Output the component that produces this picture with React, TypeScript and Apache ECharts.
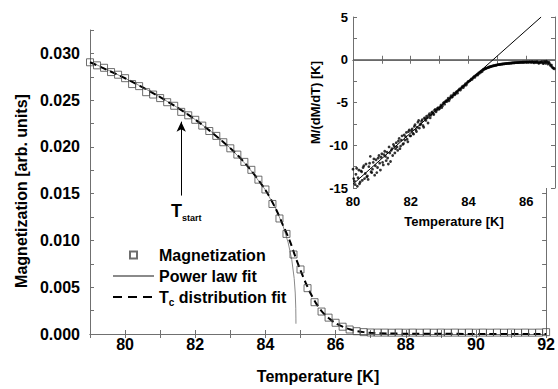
import React, { useEffect, useRef } from "react";
import * as echarts from "echarts";

const FONT = "'Liberation Sans', Arial, Helvetica, sans-serif";

// Main chart: magnetization data
const magTemps = [
  79.0, 79.2, 79.4, 79.6, 79.8, 80.0, 80.2, 80.4, 80.6, 80.8,
  81.0, 81.2, 81.4, 81.6, 81.8, 82.0, 82.2, 82.4, 82.6, 82.8,
  83.0, 83.2, 83.4, 83.6, 83.8, 84.0, 84.2, 84.4, 84.6, 84.8,
  85.0, 85.2, 85.4, 85.6, 85.8, 86.0, 86.2, 86.4, 86.6, 86.8,
  87.0, 87.2, 87.4, 87.6, 87.8, 88.0, 88.2, 88.4, 88.6, 88.8,
  89.0, 89.2, 89.4, 89.6, 89.8, 90.0, 90.2, 90.4, 90.6, 90.8,
  91.0, 91.2, 91.4, 91.6, 91.8, 92.0,
];
const magValues = [
  0.02905, 0.02872, 0.02846, 0.028, 0.02772, 0.02735, 0.02672, 0.0265, 0.02585, 0.0256,
  0.02522, 0.02478, 0.0244, 0.02375, 0.02338, 0.0229, 0.02228, 0.0217, 0.02118, 0.0205,
  0.01985, 0.01918, 0.0184, 0.01755, 0.0165, 0.01545, 0.0139, 0.01235, 0.0107, 0.0085,
  0.0069, 0.0049, 0.0034, 0.0024, 0.00175, 0.0012, 0.00078, 0.00048, 0.0003, 0.0002,
  0.00016, 0.00015, 0.00015, 0.00014, 0.00015, 0.00014, 0.00015, 0.00014, 0.00015, 0.00014,
  0.00015, 0.00014, 0.00015, 0.00014, 0.00015, 0.00014, 0.00015, 0.00014, 0.00015, 0.00014,
  0.00015, 0.00014, 0.00015, 0.00014, 0.00015, 0.0002,
];

// Power law fit
const powerTemps = [
  79.0, 79.5, 80.0, 80.5, 81.0, 81.5, 82.0, 82.5, 83.0, 83.5,
  84.0, 84.3, 84.5, 84.65, 84.75, 84.82, 84.85, 84.865, 84.869, 84.87,
];
const powerValues = [
  0.0291, 0.02825, 0.02734, 0.02638, 0.02532, 0.02419, 0.02292, 0.02151, 0.01987, 0.01791,
  0.0154, 0.01337, 0.01158, 0.00974, 0.00796, 0.00594, 0.00438, 0.00276, 0.00161, 0.0011,
];

// Tc distribution fit
const distTemps = [
  79.0, 80.0, 81.0, 82.0, 83.0, 83.5, 84.0, 84.3, 84.5, 84.7,
  84.85, 85.0, 85.15, 85.3, 85.45, 85.6, 85.8, 86.0, 86.2, 86.4,
  86.6, 86.8, 87.0, 87.5, 88.0, 90.0, 92.0,
];
const distValues = [
  0.02905, 0.02734, 0.02532, 0.02292, 0.01987, 0.0179, 0.0154, 0.01335, 0.01165, 0.0099,
  0.0083, 0.0068, 0.00545, 0.00425, 0.00325, 0.00245, 0.0017, 0.00115, 0.00078, 0.0005,
  0.00032, 0.0002, 0.00013, 0.00006, 0.00003, 0.00001, 0.0,
];

// T_start arrow (temperature, from value, to value)
const tStartTemp = 81.6;
const tStartRange = [0.0148, 0.0227];

// Inset: M/(dM/dT), first set of points
const insetTemps = [
  80.0, 80.05, 80.1, 80.15, 80.2, 80.25, 80.3, 80.35, 80.4, 80.45,
  80.5, 80.55, 80.6, 80.65, 80.7, 80.75, 80.8, 80.85, 80.9, 80.95,
  81.0, 81.05, 81.1, 81.15, 81.2, 81.25, 81.3, 81.35, 81.4, 81.45,
  81.5, 81.55, 81.6, 81.65, 81.7, 81.75, 81.8, 81.85, 81.9, 81.95,
  82.0, 82.05, 82.1, 82.15, 82.2, 82.25, 82.3, 82.35, 82.4, 82.45,
  82.5, 82.55, 82.6, 82.65, 82.7, 82.75, 82.8, 82.85, 82.9, 82.95,
  83.0, 83.05, 83.1, 83.15, 83.2, 83.25, 83.3, 83.35, 83.4, 83.45,
  83.5, 83.55, 83.6, 83.65, 83.7, 83.75, 83.8, 83.85, 83.9, 83.95,
  84.0, 84.05, 84.1, 84.15, 84.2, 84.25, 84.3, 84.35, 84.4, 84.45,
  84.5, 84.55, 84.6, 84.65, 84.7, 84.75, 84.8, 84.85, 84.9, 84.95,
  85.0, 85.05, 85.1, 85.15, 85.2, 85.25, 85.3, 85.35, 85.4, 85.45,
  85.5, 85.55, 85.6, 85.65, 85.7, 85.75, 85.8, 85.85, 85.9, 85.95,
  86.0, 86.05, 86.1, 86.15, 86.2, 86.25, 86.3, 86.35, 86.4, 86.45,
  86.5, 86.55, 86.6, 86.65, 86.7, 86.75, 86.8, 86.85, 86.9, 86.95,
];
const insetRatios = [
  -12.8, -14.2, -13.4, -14.8, -12.9, -14.3, -13.1, -12.6, -13.9, -12.2,
  -13.6, -12.5, -11.3, -13.2, -12.0, -13.5, -11.7, -12.6, -11.2, -12.9,
  -11.0, -12.3, -10.7, -11.8, -11.5, -10.2, -11.9, -10.4, -9.9, -10.9,
  -9.7, -10.6, -9.2, -10.1, -8.9, -9.8, -9.4, -8.5, -9.6, -8.2,
  -8.9, -8.1, -8.7, -7.6, -8.4, -7.3, -8.0, -7.5, -7.0, -7.9,
  -6.9, -6.6, -7.4, -6.3, -6.5, -6.1, -6.4, -5.8, -5.9, -5.6,
  -5.7, -5.3, -5.4, -5.0, -4.9, -4.9, -4.5, -4.6, -4.2, -4.3,
  -3.9, -4.0, -3.7, -3.6, -3.4, -3.35, -3.1, -3.05, -2.8, -2.75,
  -2.55, -2.45, -2.25, -2.15, -1.95, -1.85, -1.7, -1.55, -1.42, -1.3,
  -1.2, -1.1, -1.02, -0.95, -0.88, -0.82, -0.77, -0.72, -0.68, -0.64,
  -0.6, -0.57, -0.54, -0.52, -0.49, -0.47, -0.45, -0.43, -0.41, -0.4,
  -0.38, -0.36, -0.35, -0.34, -0.33, -0.32, -0.3, -0.3, -0.29, -0.28,
  -0.28, -0.27, -0.27, -0.28, -0.26, -0.3, -0.25, -0.33, -0.28, -0.4,
  -0.31, -0.22, -0.45, -0.3, -0.18, -0.5, -0.35, -0.7, -0.85, -1.0,
];
// Inset: second, interleaved set of points
const insetTemps2 = [
  80.025, 80.075, 80.125, 80.175, 80.225, 80.275, 80.325, 80.375, 80.425, 80.475,
  80.525, 80.575, 80.625, 80.675, 80.725, 80.775, 80.825, 80.875, 80.925, 80.975,
  81.025, 81.075, 81.125, 81.175, 81.225, 81.275, 81.325, 81.375, 81.425, 81.475,
  81.525, 81.575, 81.625, 81.675, 81.725, 81.775, 81.825, 81.875, 81.925, 81.975,
  82.025, 82.075, 82.125, 82.175, 82.225, 82.275, 82.325, 82.375, 82.425, 82.475,
  82.525, 82.575, 82.625, 82.675, 82.725, 82.775, 82.825, 82.875, 82.925, 82.975,
  83.025, 83.075, 83.125, 83.175, 83.225, 83.275, 83.325, 83.375, 83.425, 83.475,
  83.525, 83.575, 83.625, 83.675, 83.725, 83.775, 83.825, 83.875, 83.925, 83.975,
  84.025, 84.075, 84.125, 84.175, 84.225, 84.275, 84.325, 84.375, 84.425, 84.475,
  84.525, 84.575, 84.625, 84.675, 84.725, 84.775, 84.825, 84.875, 84.925, 84.975,
  85.025, 85.075, 85.125, 85.175, 85.225, 85.275, 85.325, 85.375, 85.425, 85.475,
  85.525, 85.575, 85.625, 85.675, 85.725, 85.775, 85.825, 85.875, 85.925, 85.975,
  86.025, 86.075, 86.125, 86.175, 86.225, 86.275, 86.325, 86.375, 86.425, 86.475,
  86.525, 86.575, 86.625, 86.675, 86.725, 86.775, 86.825, 86.875, 86.925, 86.975,
];
const insetRatios2 = [
  -13.9, -14.6, -12.7, -13.8, -14.5, -13.0, -14.1, -12.4, -13.3, -13.7,
  -14.0, -12.1, -13.1, -12.8, -11.6, -12.4, -13.2, -11.5, -12.1, -11.4,
  -12.0, -11.1, -11.3, -10.8, -12.2, -10.9, -10.6, -11.2, -10.1, -10.4,
  -10.2, -9.5, -10.4, -9.4, -9.9, -8.8, -9.0, -9.3, -8.4, -8.9,
  -8.3, -8.6, -7.8, -8.2, -7.9, -7.1, -7.6, -7.2, -7.7, -6.8,
  -7.1, -6.8, -6.5, -6.8, -6.2, -6.3, -5.9, -6.1, -5.7, -5.8,
  -5.5, -5.6, -5.1, -5.2, -4.8, -4.7, -4.8, -4.4, -4.4, -4.1,
  -4.1, -3.8, -3.9, -3.5, -3.55, -3.2, -3.25, -2.95, -2.95, -2.6,
  -2.5, -2.35, -2.3, -2.05, -2.05, -1.8, -1.78, -1.6, -1.48, -1.38,
  -1.15, -1.06, -0.98, -0.92, -0.85, -0.8, -0.74, -0.7, -0.66, -0.62,
  -0.58, -0.56, -0.53, -0.5, -0.48, -0.46, -0.44, -0.42, -0.41, -0.39,
  -0.37, -0.36, -0.34, -0.33, -0.33, -0.31, -0.3, -0.29, -0.29, -0.28,
  -0.27, -0.3, -0.25, -0.29, -0.24, -0.35, -0.27, -0.22, -0.38, -0.3,
  -0.27, -0.4, -0.2, -0.42, -0.28, -0.3, -0.55, -0.62, -0.95, -1.05,
];
// Linear fit in the inset (endpoints)
const insetFitTemps = [80.0, 86.52];
const insetFitValues = [-14.55, 5.0];
const insetZeroTemps = [80.0, 87.0];
const insetZeroValues = [0, 0];

const zip = (xs: number[], ys: number[]) => xs.map((x, i) => [x, ys[i]]);

const AXIS_COLOR = "#707070";
const HIDDEN_SYMBOL = { opacity: 0, color: "rgba(0,0,0,0)", borderWidth: 0 };

export default function App() {
  const ref = useRef<HTMLDivElement>(null);
  useEffect(() => {
    if (!ref.current) return;
    const chart = echarts.init(ref.current, undefined, { renderer: "svg" });
    const boldLabel = (size: number) => ({
      color: "#000",
      fontSize: size,
      fontWeight: "bold" as const,
      fontFamily: FONT,
    });
    const mainX = (pos: "bottom" | "top", show: boolean) => ({
      type: "value" as const,
      gridIndex: 0,
      position: pos,
      min: 79,
      max: 92,
      interval: 1,
      axisLine: { lineStyle: { color: AXIS_COLOR, width: 1 } },
      axisTick: { inside: true, length: 4, lineStyle: { color: AXIS_COLOR } },
      axisLabel: {
        show,
        margin: 2,
        ...boldLabel(16),
        formatter: (v: number) => (Math.round(v) % 2 === 0 ? String(v) : ""),
      },
      splitLine: { show: false },
      ...(show
        ? {
            name: "Temperature [K]",
            nameLocation: "middle" as const,
            nameGap: 34,
            nameTextStyle: boldLabel(16),
          }
        : {}),
    });
    const mainY = (pos: "left" | "right", show: boolean) => ({
      type: "value" as const,
      gridIndex: 0,
      position: pos,
      min: 0,
      max: 0.0325,
      interval: 0.0025,
      axisLine: { show: true, lineStyle: { color: AXIS_COLOR, width: 1 } },
      axisTick: { show: true, inside: true, length: 4, lineStyle: { color: AXIS_COLOR } },
      axisLabel: {
        show,
        margin: 10,
        ...boldLabel(16),
        formatter: (v: number) => (Math.round(v / 0.0025) % 2 === 0 ? v.toFixed(3) : ""),
      },
      splitLine: { show: false },
      ...(show
        ? {
            name: "Magnetization [arb. units]",
            nameLocation: "middle" as const,
            nameGap: 57,
            nameTextStyle: { ...boldLabel(16), padding: [0, 18, 0, 0] },
          }
        : {}),
    });
    const insetX = (pos: "bottom" | "top", show: boolean) => ({
      type: "value" as const,
      gridIndex: 1,
      position: pos,
      min: 80,
      max: 87,
      interval: 1,
      z: 6,
      axisLine: { lineStyle: { color: AXIS_COLOR, width: 1 } },
      axisTick: { inside: true, length: 4, lineStyle: { color: AXIS_COLOR } },
      axisLabel: {
        show,
        margin: 7,
        ...boldLabel(13),
        formatter: (v: number) => (Math.round(v) % 2 === 0 ? String(v) : ""),
      },
      splitLine: { show: false },
      ...(show
        ? {
            name: "Temperature [K]",
            nameLocation: "middle" as const,
            nameGap: 27,
            nameTextStyle: boldLabel(13),
          }
        : {}),
    });
    const insetY = (pos: "left" | "right", show: boolean) => ({
      type: "value" as const,
      gridIndex: 1,
      position: pos,
      min: -15,
      max: 5,
      interval: 2.5,
      z: 6,
      axisLine: { show: true, lineStyle: { color: AXIS_COLOR, width: 1 } },
      axisTick: { show: true, inside: true, length: 4, lineStyle: { color: AXIS_COLOR } },
      axisLabel: {
        show,
        margin: 5,
        ...boldLabel(13),
        formatter: (v: number) => (Math.round(v / 2.5) % 2 === 0 ? String(v) : ""),
      },
      splitLine: { show: false },
      ...(show
        ? {
            name: "M/(dM/dT) [K]",
            nameLocation: "middle" as const,
            nameGap: 31,
            nameTextStyle: boldLabel(13),
          }
        : {}),
    });

    chart.setOption({
      animation: false,
      backgroundColor: "#fff",
      textStyle: { fontFamily: FONT },
      grid: [
        { left: 90, top: 30, right: 9, bottom: 51, show: false },
        {
          left: 353,
          top: 17,
          right: -4,
          bottom: 201,
          show: true,
          backgroundColor: "#fff",
          borderWidth: 0,
          z: 5,
        },
      ],
      xAxis: [mainX("bottom", true), mainX("top", false), insetX("bottom", true), insetX("top", false)],
      yAxis: [mainY("left", true), mainY("right", false), insetY("left", true), insetY("right", false)],
      legend: {
        data: [
          { name: "Magnetization", icon: "path://M0,0H10V10H0Z" },
          { name: "Power law fit", itemStyle: HIDDEN_SYMBOL },
          {
            name: "Tc distribution fit",
            itemStyle: HIDDEN_SYMBOL,
            lineStyle: { type: [9, 6], width: 2 },
          },
        ],
        orient: "vertical",
        left: 107,
        top: 241,
        itemWidth: 41,
        itemHeight: 7,
        itemGap: 3,
        symbolKeepAspect: true,
        selectedMode: false,
        formatter: (name: string) =>
          name === "Tc distribution fit" ? "{t|T}{c|c}{t| distribution fit}" : name,
        textStyle: {
          color: "#000",
          fontSize: 16,
          fontWeight: "bold",
          fontFamily: FONT,
          lineHeight: 18,
          rich: {
            t: { fontSize: 16, fontWeight: "bold", fontFamily: FONT, color: "#000" },
            c: {
              fontSize: 10,
              fontWeight: "bold",
              fontFamily: FONT,
              color: "#000",
              padding: [10, 0, 0, 0],
            },
          },
        },
      },
      graphic: [
        {
          type: "text",
          x: 171,
          y: 211,
          z: 10,
          style: {
            text: "{t|T}{s|start}",
            verticalAlign: "middle",
            fill: "#000",
            rich: {
              t: { fontSize: 18, fontWeight: "bold", fontFamily: FONT, fill: "#000" },
              s: {
                fontSize: 9,
                fontWeight: "bold",
                fontFamily: FONT,
                fill: "#000",
                padding: [13, 0, 0, 0],
              },
            },
          },
        },
      ],
      series: [
        {
          name: "Power law fit",
          type: "line",
          xAxisIndex: 0,
          yAxisIndex: 0,
          data: zip(powerTemps, powerValues),
          showSymbol: false,
          symbol: "none",
          smooth: false,
          lineStyle: { color: "#8a8a8a", width: 1 },
          itemStyle: { color: "#8a8a8a" },
          z: 2,
        },
        {
          name: "Tc distribution fit",
          type: "line",
          xAxisIndex: 0,
          yAxisIndex: 0,
          data: zip(distTemps, distValues),
          showSymbol: false,
          symbol: "none",
          smooth: 0.3,
          lineStyle: { color: "#000", width: 2, type: [7, 4] },
          itemStyle: { color: "#000" },
          z: 3,
        },
        {
          name: "Magnetization",
          type: "scatter",
          xAxisIndex: 0,
          yAxisIndex: 0,
          data: zip(magTemps, magValues),
          symbol: "rect",
          symbolSize: 7,
          itemStyle: { color: "rgba(255,255,255,0)", borderColor: "#4a4a4a", borderWidth: 1 },
          z: 4,
          markLine: {
            silent: true,
            symbol: ["none", "arrow"],
            symbolSize: [7, 10],
            label: { show: false },
            lineStyle: { color: "#000", width: 1, type: "solid" },
            data: [
              [
                { coord: [tStartTemp, tStartRange[0]] },
                { coord: [tStartTemp, tStartRange[1]] },
              ],
            ],
          },
        },
        {
          type: "line",
          xAxisIndex: 2,
          yAxisIndex: 2,
          data: zip(insetZeroTemps, insetZeroValues),
          symbol: "none",
          lineStyle: { color: "#555", width: 1 },
          z: 7,
        },
        {
          type: "line",
          xAxisIndex: 2,
          yAxisIndex: 2,
          data: zip(insetFitTemps, insetFitValues),
          symbol: "none",
          lineStyle: { color: "#000", width: 1 },
          z: 7,
        },
        {
          type: "scatter",
          xAxisIndex: 2,
          yAxisIndex: 2,
          data: zip(insetTemps, insetRatios),
          symbol: "circle",
          symbolSize: 2.8,
          itemStyle: { color: "#000" },
          z: 8,
        },
        {
          type: "scatter",
          xAxisIndex: 2,
          yAxisIndex: 2,
          data: zip(insetTemps2, insetRatios2),
          symbol: "circle",
          symbolSize: 2.8,
          itemStyle: { color: "#000" },
          z: 8,
        },
      ],
    });
    return () => chart.dispose();
  }, []);
  return <div ref={ref} style={{ width: 558, height: 389, position: "absolute", left: 0, top: 0 }} />;
}
